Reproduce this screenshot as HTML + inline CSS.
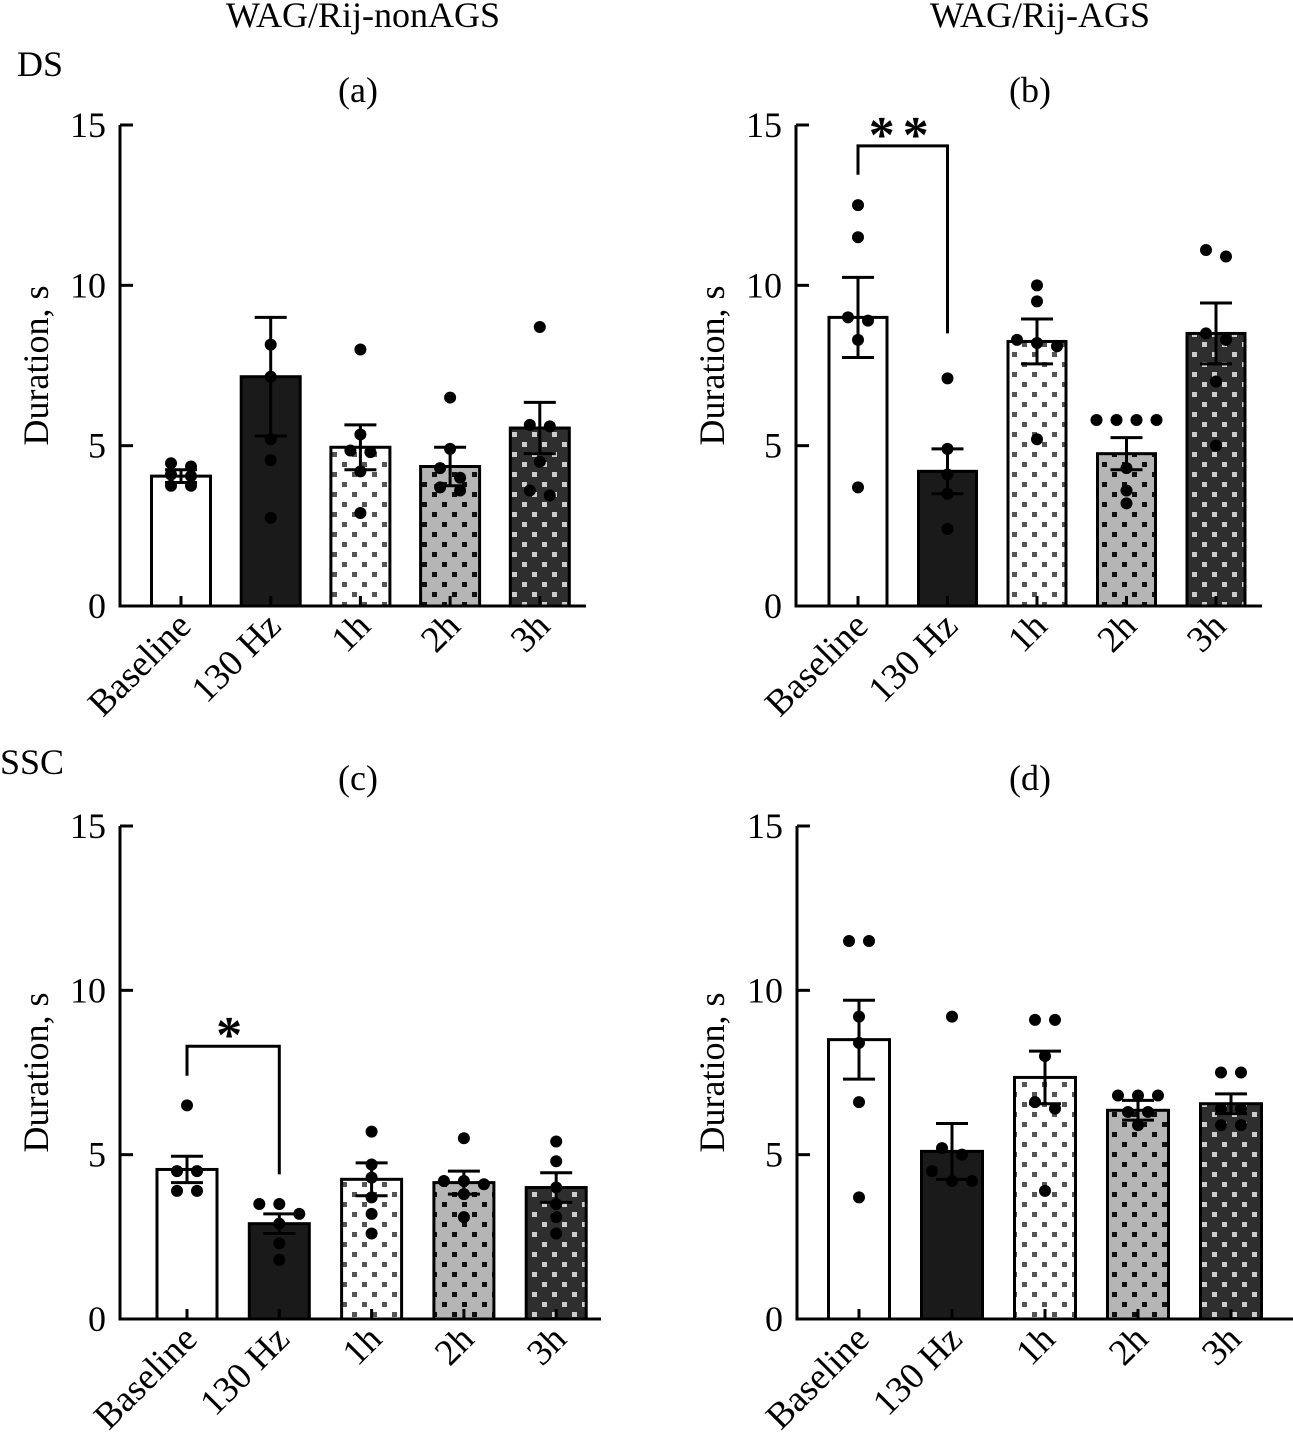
<!DOCTYPE html>
<html><head><meta charset="utf-8">
<style>
html,body{margin:0;padding:0;background:#fff;}
svg{display:block;font-family:"Liberation Serif",serif;}
</style></head>
<body>
<svg id="fig" width="1293" height="1437" viewBox="0 0 1293 1437" xmlns="http://www.w3.org/2000/svg">
<defs>
<pattern id="p1h" patternUnits="userSpaceOnUse" width="20" height="20"><rect width="20" height="20" fill="#fff"/><rect x="2" y="2" width="5" height="5" fill="#555"/><rect x="12" y="12" width="5" height="5" fill="#555"/></pattern>
<pattern id="p2h" patternUnits="userSpaceOnUse" width="20" height="20"><rect width="20" height="20" fill="#b5b5b5"/><rect x="2" y="2" width="5" height="5" fill="#111"/><rect x="12" y="12" width="5" height="5" fill="#111"/></pattern>
<pattern id="p3h" patternUnits="userSpaceOnUse" width="20" height="20"><rect width="20" height="20" fill="#2e2e2e"/><rect x="2" y="2" width="5" height="5" fill="#ccc"/><rect x="12" y="12" width="5" height="5" fill="#ccc"/></pattern>
</defs>
<text x="363" y="27" font-size="36" text-anchor="middle">WAG/Rij-nonAGS</text>
<text x="1040" y="27" font-size="36" text-anchor="middle">WAG/Rij-AGS</text>
<text x="17" y="76" font-size="36">DS</text>
<text x="0" y="774" font-size="36">SSC</text>
</svg>
<script>
const categories = ["Baseline","130 Hz","1h","2h","3h"];
const yTicks = [0,5,10,15];
const meansA = [4.05,7.15,4.95,4.35,5.55];
const semA = [0.2,1.85,0.7,0.6,0.8];
const ptsA = [[4.45,4.35,4.1,4.05,3.75,3.75],[8.15,7.15,5.2,4.55,2.75],[8.0,5.35,4.85,4.8,4.2,2.9],[6.5,4.9,4.3,4.0,3.7,3.6],[8.7,5.65,5.6,4.5,3.6,3.45]];
const meansB = [9.0,4.2,8.25,4.75,8.5];
const semB = [1.25,0.7,0.7,0.5,0.95];
const ptsB = [[12.5,11.5,9.0,8.9,8.3,3.7],[7.1,4.9,4.1,3.5,2.4],[10.0,9.5,8.3,8.2,8.1,5.2],[5.8,5.8,5.8,5.8,4.3,3.6,3.2],[11.1,10.9,8.5,8.3,7.0,5.0]];
const meansC = [4.55,2.9,4.25,4.15,4.0];
const semC = [0.4,0.3,0.5,0.35,0.45];
const ptsC = [[6.5,4.5,4.5,3.9,3.9],[3.5,3.5,3.2,2.9,2.3,1.8],[5.7,4.7,4.3,3.7,3.2,2.6],[5.5,4.2,4.2,4.1,3.8,3.1],[5.4,4.8,4.0,3.5,3.1,2.6]];
const meansD = [8.5,5.1,7.35,6.35,6.55];
const semD = [1.2,0.85,0.8,0.3,0.3];
const ptsD = [[11.5,11.5,9.2,8.4,6.6,3.7],[9.2,5.2,5.0,4.5,4.2,4.2],[9.1,9.1,8.0,6.6,6.4,3.9],[6.8,6.8,6.8,6.3,6.3,5.9],[7.5,7.5,6.4,6.4,5.9,5.9]];
const fills = ["#fff","#1a1a1a","url(#p1h)","url(#p2h)","url(#p3h)"];

const NS="http://www.w3.org/2000/svg";
const svg=document.getElementById('fig');
function mk(tag,attrs,parent,txt){const e=document.createElementNS(NS,tag);for(const k in attrs)e.setAttribute(k,attrs[k]);if(txt!==undefined)e.textContent=txt;(parent||svg).appendChild(e);return e;}

function panel(id,P,means,sem,pts,sig){
  const g=mk('g',{});
  
  
  const y=v=>P.y0-(v/15)*(P.y0-P.y15);
  const x=i=>P.x0+i*P.step;
  const bw=P.bw;
  means.forEach((m,i)=>{
    const r=mk('rect',{x:x(i)-bw/2,y:y(m),width:bw,height:y(0)-y(m),fill:fills[i],stroke:'#000','stroke-width':3},g);
    
    
  });
  means.forEach((m,i)=>{
    const e=mk('path',{d:`M${x(i)},${y(m-sem[i])}V${y(m+sem[i])}M${x(i)-16},${y(m+sem[i])}H${x(i)+16}M${x(i)-16},${y(m-sem[i])}H${x(i)+16}`,stroke:'#000','stroke-width':3,fill:'none'},g);
    
    
    const st=mk('line',{x1:x(i),x2:x(i),y1:y(0),y2:y(0)-10,stroke:'#000','stroke-width':3},g);
    
    
  });
  pts.forEach((arr,i)=>{
    const used=arr.map(()=>false);
    arr.forEach((v,j)=>{
      if(used[j])return;
      const grp=[];arr.forEach((w,k)=>{if(!used[k]&&Math.abs(w-v)<0.3){grp.push(k);used[k]=true;}});
      grp.forEach((k,n)=>{
        const off=(n-(grp.length-1)/2)*20;
        const c=mk('circle',{cx:x(i)+off,cy:y(arr[k]),r:6,fill:'#000'},g);
        
        
      });
    });
  });
  const axX=P.axX;
  const ax=mk('path',{d:`M${axX},${y(15)}V${y(0)}H${P.xEnd}`,stroke:'#000','stroke-width':3,fill:'none'},g);
  
  
  yTicks.forEach(t=>{
    const tk=mk('line',{x1:axX,x2:axX+13,y1:y(t),y2:y(t),stroke:'#000','stroke-width':3},g);
    
    
    const tl=mk('text',{x:axX-14,y:y(t)+12,'font-size':36,'text-anchor':'end'},g,String(t));
    
    
  });
  categories.forEach((c,i)=>{
    const cx=x(i)+12,cy=y(0)+22;
    const t=mk('text',{x:cx,y:cy,'font-size':37,'text-anchor':'end',transform:`rotate(-45 ${cx} ${cy})`},g,c);
    
    
  });
  const ty=(y(0)+y(15))/2;
  const yt=mk('text',{x:P.titleX,y:ty,'font-size':36,'text-anchor':'middle',transform:`rotate(-90 ${P.titleX} ${ty})`},g,'Duration, s');
  
  
  const pl=mk('text',{x:P.labX,y:P.labY,'font-size':36,'text-anchor':'middle'},g,'('+id+')');
  
  
  if(sig){
    const yb=y(sig.level);
    const b=mk('path',{d:`M${x(sig.a)},${y(sig.aEnd)}V${yb}H${x(sig.b)}V${y(sig.bEnd)}`,stroke:'#000','stroke-width':3,fill:'none'},g);
    
    
    const s=mk('text',{x:(x(sig.a)+x(sig.b))/2,y:yb+6,'font-size':52,'font-weight':'bold','text-anchor':'middle','letter-spacing':'8'},g,sig.stars);
    
    
  }
}
panel('a',{x0:181,step:89.7,bw:59,y0:606,y15:125,axX:120,xEnd:586,titleX:48,labX:358,labY:102},meansA,semA,ptsA);
panel('b',{x0:858,step:89.5,bw:58,y0:606,y15:125,axX:796,xEnd:1262,titleX:724,labX:1030,labY:102},meansB,semB,ptsB,{a:0,b:1,level:14.35,aEnd:13.45,bEnd:8.5,stars:'**'});
panel('c',{x0:187,step:92.3,bw:60,y0:1319,y15:826,axX:120,xEnd:601,titleX:48,labX:358,labY:790},meansC,semC,ptsC,{a:0,b:1,level:8.3,aEnd:7.4,bEnd:4.4,stars:'*'});
panel('d',{x0:859,step:93,bw:61,y0:1319,y15:826,axX:797,xEnd:1293,titleX:724,labX:1030,labY:790},meansD,semD,ptsD);
</script>
</body></html>
